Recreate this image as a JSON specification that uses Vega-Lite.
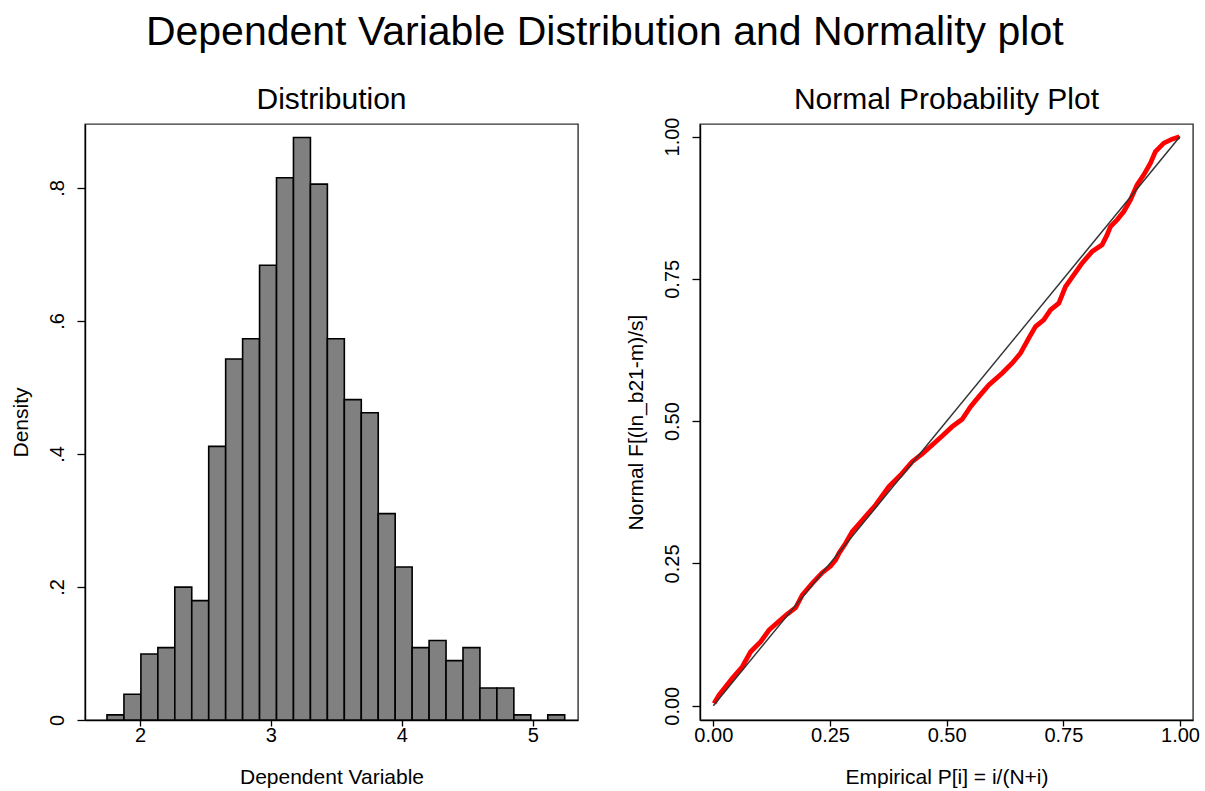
{
  "$schema": "https://vega.github.io/schema/vega-lite/v6.json",
  "background": "white",
  "padding": {"left": 9, "top": 12, "right": 10, "bottom": 5},
  "title": {"text": "Dependent Variable Distribution and Normality plot", "fontSize": 41, "font": "Liberation Sans", "fontWeight": "normal", "color": "black", "anchor": "middle", "offset": 30},
  "config": {
    "font": "Liberation Sans",
    "view": {"stroke": "#333333", "strokeWidth": 1.4},
    "axis": {"domainColor": "black", "domainWidth": 1.4, "tickColor": "black", "tickWidth": 1.3, "labelColor": "black", "titleColor": "black", "labelFont": "Liberation Sans", "titleFont": "Liberation Sans", "labelFontSize": 20, "titleFontSize": 21, "titleFontWeight": "normal", "grid": false},
    "title": {"fontSize": 30, "fontWeight": "normal", "font": "Liberation Sans", "color": "black", "offset": 9}
  },
  "datasets": {
    "hist": [
      {"bin_start": 1.748, "bin_end": 1.8775, "density": 0.0077},
      {"bin_start": 1.8775, "bin_end": 2.007, "density": 0.0386},
      {"bin_start": 2.007, "bin_end": 2.1365, "density": 0.0993},
      {"bin_start": 2.1365, "bin_end": 2.266, "density": 0.1088},
      {"bin_start": 2.266, "bin_end": 2.3955, "density": 0.1998},
      {"bin_start": 2.3955, "bin_end": 2.525, "density": 0.1795},
      {"bin_start": 2.525, "bin_end": 2.6545, "density": 0.4114},
      {"bin_start": 2.6545, "bin_end": 2.784, "density": 0.5428},
      {"bin_start": 2.784, "bin_end": 2.9135, "density": 0.5731},
      {"bin_start": 2.9135, "bin_end": 3.043, "density": 0.6837},
      {"bin_start": 3.043, "bin_end": 3.1725, "density": 0.8151},
      {"bin_start": 3.1725, "bin_end": 3.302, "density": 0.8757},
      {"bin_start": 3.302, "bin_end": 3.4315, "density": 0.8056},
      {"bin_start": 3.4315, "bin_end": 3.561, "density": 0.5731},
      {"bin_start": 3.561, "bin_end": 3.6905, "density": 0.4816},
      {"bin_start": 3.6905, "bin_end": 3.82, "density": 0.462},
      {"bin_start": 3.82, "bin_end": 3.9495, "density": 0.3103},
      {"bin_start": 3.9495, "bin_end": 4.079, "density": 0.2301},
      {"bin_start": 4.079, "bin_end": 4.2085, "density": 0.1088},
      {"bin_start": 4.2085, "bin_end": 4.338, "density": 0.1195},
      {"bin_start": 4.338, "bin_end": 4.4675, "density": 0.0892},
      {"bin_start": 4.4675, "bin_end": 4.597, "density": 0.1088},
      {"bin_start": 4.597, "bin_end": 4.7265, "density": 0.0482},
      {"bin_start": 4.7265, "bin_end": 4.856, "density": 0.0482},
      {"bin_start": 4.856, "bin_end": 4.9855, "density": 0.0077},
      {"bin_start": 5.115, "bin_end": 5.2445, "density": 0.0077}
    ],
    "pnorm": [
      {"empirical": 0.0015, "normal": 0.0042},
      {"empirical": 0.0122, "normal": 0.0188},
      {"empirical": 0.0407, "normal": 0.0481},
      {"empirical": 0.0621, "normal": 0.0685},
      {"empirical": 0.08, "normal": 0.0949},
      {"empirical": 0.1015, "normal": 0.1125},
      {"empirical": 0.1193, "normal": 0.133},
      {"empirical": 0.137, "normal": 0.1459},
      {"empirical": 0.1585, "normal": 0.1612},
      {"empirical": 0.1764, "normal": 0.1722},
      {"empirical": 0.1906, "normal": 0.1946},
      {"empirical": 0.212, "normal": 0.2151},
      {"empirical": 0.2334, "normal": 0.2338},
      {"empirical": 0.2514, "normal": 0.2455},
      {"empirical": 0.2621, "normal": 0.2561},
      {"empirical": 0.2692, "normal": 0.2678},
      {"empirical": 0.2835, "normal": 0.2854},
      {"empirical": 0.2977, "normal": 0.3058},
      {"empirical": 0.3227, "normal": 0.3293},
      {"empirical": 0.3478, "normal": 0.3527},
      {"empirical": 0.3762, "normal": 0.3849},
      {"empirical": 0.4013, "normal": 0.4054},
      {"empirical": 0.4261, "normal": 0.4288},
      {"empirical": 0.4475, "normal": 0.4423},
      {"empirical": 0.469, "normal": 0.4582},
      {"empirical": 0.4904, "normal": 0.474},
      {"empirical": 0.5118, "normal": 0.4903},
      {"empirical": 0.5332, "normal": 0.5033},
      {"empirical": 0.5512, "normal": 0.5255},
      {"empirical": 0.569, "normal": 0.5431},
      {"empirical": 0.5904, "normal": 0.5636},
      {"empirical": 0.6188, "normal": 0.5842},
      {"empirical": 0.6403, "normal": 0.6018},
      {"empirical": 0.6582, "normal": 0.6193},
      {"empirical": 0.676, "normal": 0.6457},
      {"empirical": 0.6903, "normal": 0.6661},
      {"empirical": 0.7081, "normal": 0.6779},
      {"empirical": 0.7225, "normal": 0.6954},
      {"empirical": 0.7403, "normal": 0.7072},
      {"empirical": 0.7546, "normal": 0.7364},
      {"empirical": 0.7724, "normal": 0.7569},
      {"empirical": 0.7901, "normal": 0.7775},
      {"empirical": 0.8116, "normal": 0.7979},
      {"empirical": 0.833, "normal": 0.8097},
      {"empirical": 0.8437, "normal": 0.8272},
      {"empirical": 0.851, "normal": 0.8418},
      {"empirical": 0.8651, "normal": 0.8536},
      {"empirical": 0.8794, "normal": 0.8682},
      {"empirical": 0.8938, "normal": 0.8888},
      {"empirical": 0.9079, "normal": 0.9151},
      {"empirical": 0.9223, "normal": 0.9327},
      {"empirical": 0.9366, "normal": 0.9532},
      {"empirical": 0.9473, "normal": 0.9736},
      {"empirical": 0.9651, "normal": 0.9884},
      {"empirical": 0.9829, "normal": 0.9954},
      {"empirical": 0.9987, "normal": 0.9995}
    ],
    "diag": [
      {"empirical": 0, "normal": 0},
      {"empirical": 1, "normal": 1}
    ]
  },
  "spacing": 122,
  "bounds": "flush",
  "hconcat": [
    {
      "width": 493,
      "height": 596,
      "title": {"text": "Distribution"},
      "data": {"name": "hist"},
      "mark": {"type": "rect", "fill": "#808080", "stroke": "black", "strokeWidth": 1.6},
      "encoding": {
        "x": {"field": "bin_start", "type": "quantitative", "scale": {"domain": [1.58, 5.346], "nice": false, "zero": false}, "axis": {"values": [2, 3, 4, 5], "title": "Dependent Variable", "tickSize": 6, "labelPadding": -1, "titlePadding": 21}},
        "x2": {"field": "bin_end"},
        "y": {"field": "density", "type": "quantitative", "scale": {"domain": [0, 0.896], "nice": false}, "axis": {"values": [0, 0.2, 0.4, 0.6, 0.8], "labelExpr": "datum.value == 0 ? '0' : replace(format(datum.value, '.1f'), '0.', '.')", "labelAngle": -90, "title": "Density", "tickSize": 8, "labelPadding": 10, "titlePadding": 16}},
        "y2": {"datum": 0}
      }
    },
    {
      "width": 493,
      "height": 596,
      "title": {"text": "Normal Probability Plot", "dy": 7},
      "layer": [
        {
          "data": {"name": "pnorm"},
          "mark": {"type": "line", "color": "red", "strokeWidth": 4.8},
          "encoding": {
            "x": {"field": "empirical", "type": "quantitative", "scale": {"domain": [-0.0285, 1.0278], "nice": false, "zero": false}, "axis": {"values": [0, 0.25, 0.5, 0.75, 1], "format": ".2f", "title": "Empirical P[i] = i/(N+i)", "tickSize": 6, "labelPadding": -1, "titlePadding": 21}},
            "y": {"field": "normal", "type": "quantitative", "scale": {"domain": [-0.025, 1.022], "nice": false, "zero": false}, "axis": {"values": [0, 0.25, 0.5, 0.75, 1], "format": ".2f", "labelAngle": -90, "title": "Normal F[(ln_b21-m)/s]", "tickSize": 8, "labelPadding": 10, "titlePadding": 16}}
          }
        },
        {
          "data": {"name": "diag"},
          "mark": {"type": "line", "color": "#333333", "strokeWidth": 1.5},
          "encoding": {
            "x": {"field": "empirical", "type": "quantitative"},
            "y": {"field": "normal", "type": "quantitative"}
          }
        }
      ]
    }
  ]
}
